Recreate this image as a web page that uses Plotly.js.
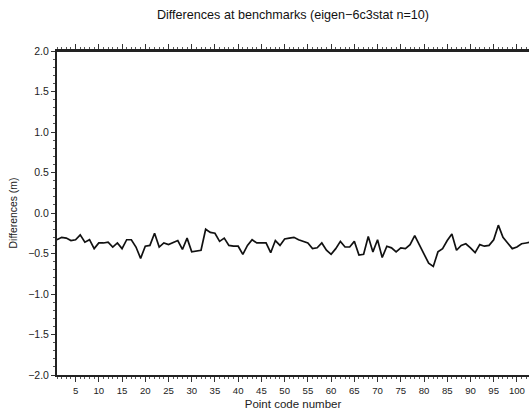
<!DOCTYPE html>
<html>
<head>
<meta charset="utf-8">
<script src="https://cdn.plot.ly/plotly-3.0.1.min.js"></script>
<style>
html,body{margin:0;padding:0;overflow:hidden;background:#fff;}
#chart{width:529px;height:415px;}
</style>
</head>
<body>
<div id="chart"></div>
<script>
// Point code numbers and differences (m)
const pointCodes = Array.from({length: 103}, (_, i) => i + 1);
const differences = [
  -0.33, -0.30, -0.31, -0.34, -0.33, -0.27, -0.36, -0.33, -0.44, -0.37,
  -0.37, -0.36, -0.42, -0.37, -0.44, -0.33, -0.33, -0.42, -0.56, -0.41,
  -0.40, -0.25, -0.42, -0.37, -0.39, -0.36, -0.34, -0.45, -0.31, -0.48,
  -0.47, -0.46, -0.20, -0.24, -0.25, -0.35, -0.31, -0.40, -0.41, -0.41,
  -0.51, -0.40, -0.33, -0.37, -0.37, -0.37, -0.49, -0.34, -0.40, -0.32,
  -0.31, -0.30, -0.33, -0.35, -0.37, -0.44, -0.43, -0.37, -0.46, -0.51,
  -0.44, -0.35, -0.42, -0.42, -0.35, -0.52, -0.51, -0.29, -0.48, -0.33,
  -0.55, -0.41, -0.43, -0.48, -0.43, -0.44, -0.39, -0.28, -0.39, -0.51,
  -0.62, -0.66, -0.48, -0.44, -0.34, -0.26, -0.46, -0.40, -0.38, -0.43,
  -0.49, -0.39, -0.41, -0.40, -0.33, -0.15, -0.30, -0.37, -0.44, -0.42,
  -0.38, -0.37, -0.36
];
const yTickVals = [-2.0, -1.5, -1.0, -0.5, 0.0, 0.5, 1.0, 1.5, 2.0];
const xTickVals = [5, 10, 15, 20, 25, 30, 35, 40, 45, 50, 55, 60, 65, 70, 75, 80, 85, 90, 95, 100];

const FONT = '"Liberation Sans", Arial, Helvetica, sans-serif';

const trace = {
  x: pointCodes,
  y: differences,
  type: 'scatter',
  mode: 'lines',
  line: {color: '#111', width: 1.7},
  hoverinfo: 'skip'
};

const layout = {
  width: 529,
  height: 415,
  margin: {l: 57, r: 0, t: 51, b: 40, pad: 0},
  paper_bgcolor: '#fff',
  plot_bgcolor: '#fff',
  showlegend: false,
  font: {family: FONT, color: '#222', size: 10},
  title: {
    text: 'Differences at benchmarks (eigen\u22126c3stat n=10)',
    font: {family: FONT, size: 12.6, color: '#111'},
    x: 0.5, xref: 'paper', xanchor: 'center',
    y: 1 - 15/415, yref: 'container', yanchor: 'middle'
  },
  xaxis: {
    range: [1, 102.6],
    tickmode: 'array',
    tickvals: xTickVals,
    ticktext: xTickVals.map(String),
    ticks: 'outside', ticklen: 5, tickwidth: 1, tickcolor: '#333',
    minor: {dtick: 1, tick0: 0, ticks: 'outside', ticklen: 2, tickwidth: 1, tickcolor: '#555', showgrid: false},
    showline: true, linewidth: 2, linecolor: '#222', mirror: 'ticks',
    showgrid: false, zeroline: false,
    tickfont: {family: FONT, size: 9.6, color: '#222'},
    title: {text: 'Point code number', font: {family: FONT, size: 11.5, color: '#222'}, standoff: 5},
    fixedrange: true
  },
  yaxis: {
    range: [-2, 2],
    tickmode: 'array',
    tickvals: yTickVals,
    tickformat: '.1f',
    ticks: 'outside', ticklen: 4, tickwidth: 1, tickcolor: '#333',
    minor: {dtick: 0.1, tick0: 0, ticks: 'outside', ticklen: 2, tickwidth: 1, tickcolor: '#555', showgrid: false},
    showline: true, linewidth: 2, linecolor: '#222', mirror: false,
    showgrid: false, zeroline: false,
    tickfont: {family: FONT, size: 10.5, color: '#222'},
    title: {text: 'Differences (m)', font: {family: FONT, size: 10.4, color: '#222'}, standoff: 9},
    fixedrange: true
  },
  shapes: [
    {type: 'line', xref: 'paper', yref: 'paper', x0: 0, x1: 1, y0: 1, y1: 1, line: {color: '#222', width: 2}}
  ]
};

Plotly.newPlot('chart', [trace], layout, {staticPlot: true, displayModeBar: false});
</script>
</body>
</html>
